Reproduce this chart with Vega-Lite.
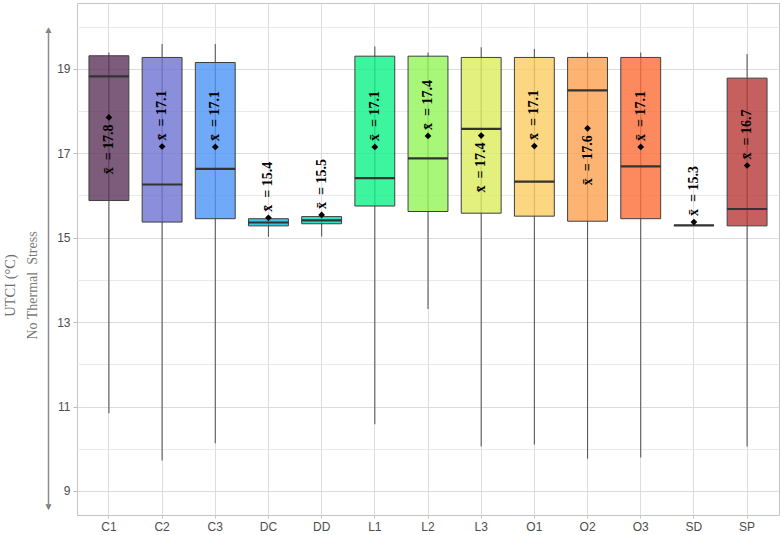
{
  "$schema": "https://vega.github.io/schema/vega-lite/v6.json",
  "width": 702,
  "height": 512,
  "autosize": "none",
  "padding": {"left": 77, "top": 3, "right": 3, "bottom": 20},
  "background": "white",
  "config": {
    "view": {"stroke": "#C4C4C4", "strokeWidth": 1},
    "axis": {"labelFont": "Liberation Sans", "labelFontSize": 12, "labelColor": "#4D4D4D", "domain": false}
  },
  "data": {
    "values": [
      {"site": "C1", "min": 10.84, "q1": 15.88, "median": 18.82, "q3": 19.31, "max": 19.39, "mean": 17.85, "label": "x̄\u00a0\u00a0=\u00a017.8", "side": "below"},
      {"site": "C2", "min": 9.72, "q1": 15.37, "median": 16.26, "q3": 19.27, "max": 19.59, "mean": 17.16, "label": "x̄\u00a0\u00a0=\u00a017.1", "side": "above"},
      {"site": "C3", "min": 10.13, "q1": 15.45, "median": 16.63, "q3": 19.15, "max": 19.59, "mean": 17.15, "label": "x̄\u00a0\u00a0=\u00a017.1", "side": "above"},
      {"site": "DC", "min": 15.02, "q1": 15.28, "median": 15.36, "q3": 15.45, "max": 15.47, "mean": 15.47, "label": "x̄\u00a0\u00a0=\u00a015.4", "side": "above"},
      {"site": "DD", "min": 15.03, "q1": 15.33, "median": 15.41, "q3": 15.5, "max": 15.54, "mean": 15.54, "label": "x̄\u00a0\u00a0=\u00a015.5", "side": "above"},
      {"site": "L1", "min": 10.58, "q1": 15.75, "median": 16.41, "q3": 19.3, "max": 19.53, "mean": 17.15, "label": "x̄\u00a0\u00a0=\u00a017.1", "side": "above"},
      {"site": "L2", "min": 13.31, "q1": 15.62, "median": 16.88, "q3": 19.3, "max": 19.39, "mean": 17.41, "label": "x̄\u00a0\u00a0=\u00a017.4", "side": "above"},
      {"site": "L3", "min": 10.05, "q1": 15.58, "median": 17.58, "q3": 19.27, "max": 19.51, "mean": 17.42, "label": "x̄\u00a0\u00a0=\u00a017.4", "side": "below"},
      {"site": "O1", "min": 10.1, "q1": 15.51, "median": 16.33, "q3": 19.27, "max": 19.47, "mean": 17.17, "label": "x̄\u00a0\u00a0=\u00a017.1", "side": "above"},
      {"site": "O2", "min": 9.76, "q1": 15.39, "median": 18.49, "q3": 19.27, "max": 19.39, "mean": 17.59, "label": "x̄\u00a0\u00a0=\u00a017.6", "side": "below"},
      {"site": "O3", "min": 9.79, "q1": 15.45, "median": 16.69, "q3": 19.27, "max": 19.39, "mean": 17.15, "label": "x̄\u00a0\u00a0=\u00a017.1", "side": "above"},
      {"site": "SD", "min": 15.29, "q1": 15.29, "median": 15.29, "q3": 15.29, "max": 15.29, "mean": 15.37, "label": "x̄\u00a0\u00a0=\u00a015.3", "side": "above"},
      {"site": "SP", "min": 10.05, "q1": 15.28, "median": 15.68, "q3": 18.78, "max": 19.35, "mean": 16.71, "label": "x̄\u00a0\u00a0=\u00a016.7", "side": "above"}
    ]
  },
  "layer": [
    {
      "encoding": {
        "x": {
          "field": "site", "type": "nominal", "sort": null,
          "scale": {"paddingInner": 0, "paddingOuter": 0.1},
          "axis": {"title": null, "labelAngle": 0, "grid": true, "gridColor": "#DEDEDE", "tickBand": "center", "ticks": true, "tickSize": 3, "tickColor": "#C4C4C4", "labelPadding": 3}
        }
      },
      "layer": [
        {
          "mark": {"type": "rule", "color": "#595959", "strokeWidth": 1.1},
          "encoding": {
            "y": {
              "field": "min", "type": "quantitative",
              "scale": {"domain": [8.43, 20.56], "nice": false, "zero": false},
              "axis": {
                "values": [9, 10, 11, 12, 13, 14, 15, 16, 17, 18, 19, 20],
                "labelExpr": "datum.value % 2 == 1 ? datum.label : ''",
                "title": "UTCI (°C)",
                "titleFont": "Liberation Serif", "titleFontSize": 14.5, "titleFontWeight": "normal", "titleColor": "#6E6E6E",
                "titleX": -67, "titleY": 282, "titleAngle": 270, "titleAlign": "center", "titleBaseline": "middle",
                "grid": true,
                "gridColor": {"condition": {"test": "datum.value % 2 == 1", "value": "#DCDCDC"}, "value": "#EAEAEA"},
                "ticks": true, "tickSize": 4, "tickColor": "#BDBDBD",
                "tickOpacity": {"condition": {"test": "datum.value % 2 == 1", "value": 1}, "value": 0},
                "labelPadding": 3
              }
            },
            "y2": {"field": "max"}
          }
        },
        {
          "mark": {"type": "bar", "width": {"band": 0.75}, "stroke": "#3F3F3F", "strokeWidth": 1, "fillOpacity": 0.8},
          "encoding": {
            "y": {"field": "q1", "type": "quantitative"},
            "y2": {"field": "q3"},
            "fill": {
              "field": "site", "type": "nominal", "legend": null,
              "scale": {
                "domain": ["C1", "C2", "C3", "DC", "DD", "L1", "L2", "L3", "O1", "O2", "O3", "SD", "SP"],
                "range": ["#5C3259", "#6D72D2", "#4C94F5", "#00BCD8", "#00D8BA", "#0CF287", "#93F558", "#DCEC5C", "#FCCC61", "#FCA150", "#FC6D37", "#E8524A", "#B83837"]
              }
            }
          }
        },
        {
          "mark": {"type": "tick", "orient": "horizontal", "size": 40, "thickness": 2.2, "color": "#333333", "opacity": 1},
          "encoding": {"y": {"field": "median", "type": "quantitative"}}
        },
        {
          "mark": {"type": "point", "shape": "diamond", "filled": true, "size": 45, "color": "black", "opacity": 1},
          "encoding": {"y": {"field": "mean", "type": "quantitative"}}
        },
        {
          "transform": [{"filter": "datum.side == 'above'"}],
          "mark": {"type": "text", "angle": 270, "align": "left", "baseline": "middle", "dx": 6, "font": "Liberation Serif", "fontWeight": "bold", "fontSize": 14, "color": "black"},
          "encoding": {"y": {"field": "mean", "type": "quantitative"}, "text": {"field": "label"}}
        },
        {
          "transform": [{"filter": "datum.side == 'below'"}],
          "mark": {"type": "text", "angle": 270, "align": "right", "baseline": "middle", "dx": -7, "font": "Liberation Serif", "fontWeight": "bold", "fontSize": 14, "color": "black"},
          "encoding": {"y": {"field": "mean", "type": "quantitative"}, "text": {"field": "label"}}
        }
      ]
    },
    {
      "mark": {"type": "rule", "opacity": 0},
      "encoding": {
        "y": {
          "datum": 0.5, "type": "quantitative",
          "scale": {"domain": [0, 1], "range": [503, 26], "nice": false, "zero": false},
          "axis": {
            "orient": "left", "offset": 29,
            "values": [0, 1],
            "labelExpr": "datum.value > 0.5 ? '▲' : '▼'",
            "labelAlign": "center", "labelBaseline": "middle", "labelPadding": 0,
            "labelFontSize": 10, "labelColor": "#7A7A7A", "labelFlush": false, "labelOverlap": false, "labelBound": false,
            "ticks": false, "tickSize": 0, "grid": false,
            "domain": true, "domainColor": "#8C8C8C", "domainWidth": 1.5,
            "title": "No Thermal\u00a0\u00a0Stress",
            "titleFont": "Liberation Serif", "titleFontSize": 14, "titleFontWeight": "normal", "titleColor": "#7A7A7A",
            "titleX": -16, "titleY": 282, "titleAngle": 270, "titleAlign": "center", "titleBaseline": "middle"
          }
        }
      }
    }
  ],
  "resolve": {"scale": {"y": "independent"}, "axis": {"y": "independent"}}
}
